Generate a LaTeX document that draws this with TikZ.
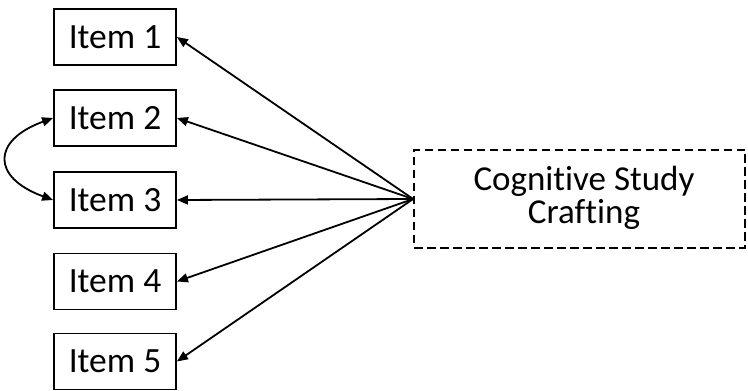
\documentclass[tikz,border=0pt]{standalone}
\usepackage{fontspec}
\setmainfont{Carlito}[Ligatures=NoCommon]
\usetikzlibrary{arrows.meta}
\begin{document}
\begin{tikzpicture}[x=1pt,y=1pt,
  itembox/.style={draw=black, line width=1.8pt, minimum width=122pt, minimum height=56pt, inner sep=0pt, font=\fontsize{35.5}{31}\selectfont},
  latentbox/.style={draw=black, line width=1.8pt, dash pattern=on 8.5pt off 4.5pt, minimum width=331pt, minimum height=98pt, inner sep=0pt},
  latenttext/.style={align=center, inner sep=0pt, font=\fontsize{35}{33}\selectfont},
  conn/.style={line width=1.8pt, -{Triangle[length=11pt,width=9pt]}},
  corr/.style={line width=1.8pt, {Triangle[length=11pt,width=9pt]}-{Triangle[length=11pt,width=9pt]}}
]
\useasboundingbox (0,0) rectangle (748,391);
\node[itembox] (i1) at (115,354) {Item 1};
\node[itembox] (i2) at (115,273) {Item 2};
\node[itembox] (i3) at (115,191) {Item 3};
\node[itembox] (i4) at (115,109.5) {Item 4};
\node[itembox] (i5) at (115,29.5) {Item 5};
\node[latentbox] (cs) at (579.5,192) {};
\node[latenttext] (cst) at (584,193) {Cognitive Study\\Crafting};
\foreach \i in {i1,i2,i3,i4,i5}{
  \draw[conn] (cs.west) -- (\i.east);
}
\draw[corr] (i2.west) to[out=200,in=160,looseness=2.05] (i3.west);
\end{tikzpicture}
\end{document}
